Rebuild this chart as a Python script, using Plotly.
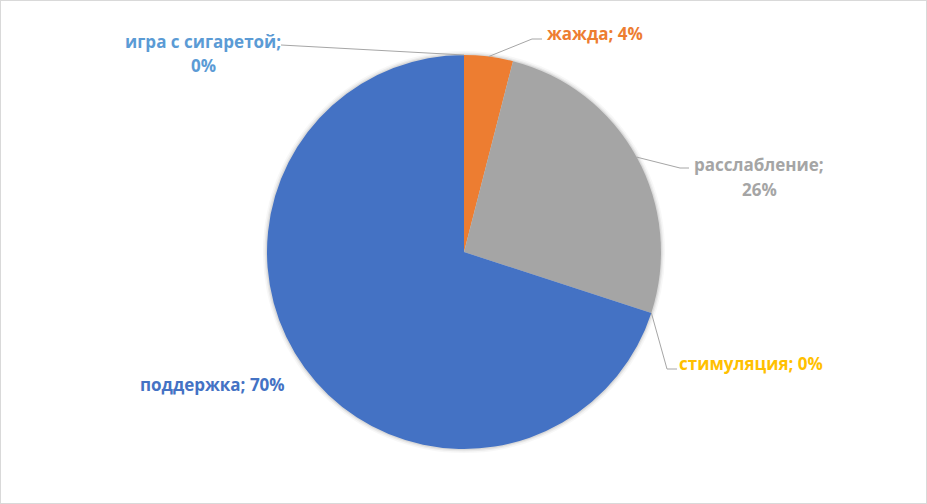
import math
import plotly.graph_objects as go

# Data (clockwise from 12 o'clock)
labels = ["жажда", "расслабление", "стимуляция", "поддержка", "игра с сигаретой"]
values = [4, 26, 0, 70, 0]
colors = ["#ED7D31", "#A5A5A5", "#FFC000", "#4472C4", "#5B9BD5"]

W, H = 927, 504
CX, CY, R = 464, 252, 197

def px(x):
    return x / W

def py(y):
    return 1 - y / H

fig = go.Figure()

# soft shadow halo behind the pie
for d, a in [(4, 0.03), (2.5, 0.05), (1.2, 0.07)]:
    fig.add_trace(go.Pie(
        values=[1], labels=["s"], marker=dict(colors=[f"rgba(0,0,0,{a})"], line=dict(width=0)),
        domain=dict(x=[px(CX - R - d), px(CX + R + d)], y=[py(CY + R + d), py(CY - R - d)]),
        textinfo="none", hoverinfo="skip", showlegend=False, sort=False))

fig.add_trace(go.Pie(
    labels=labels, values=values, sort=False, direction="clockwise", rotation=0,
    marker=dict(colors=colors, line=dict(width=0)),
    domain=dict(x=[px(CX - R), px(CX + R)], y=[py(CY + R), py(CY - R)]),
    textinfo="none", showlegend=False, hoverinfo="label+percent"))

total = sum(values)
cum = 0
mid_angles = []
for v in values:
    mid_angles.append((cum + v / 2) / total * 2 * math.pi)
    cum += v

# label layout: text centre(s) in pixels, leader elbow and end points
label_pos = {
    "жажда": dict(x=595, y=[34], elbow=(532, 39), end=(542, 39)),
    "расслабление": dict(x=759, y=[165, 189], elbow=(680, 168), end=(689, 168)),
    "стимуляция": dict(x=751, y=[363], elbow=(667, 369), end=(677, 369)),
    "поддержка": dict(x=212, y=[384], elbow=None, end=None),
    "игра с сигаретой": dict(x=203, y=[41, 66], elbow=None, end=(281, 45)),
}

for lab, v, col, ang in zip(labels, values, colors, mid_angles):
    p = label_pos[lab]
    pct = f"{round(v / total * 100)}%"
    lines = [f"{lab};", pct] if len(p["y"]) == 2 else [f"{lab}; {pct}"]
    for t, yy in zip(lines, p["y"]):
        fig.add_annotation(x=px(p["x"]), y=py(yy), xref="paper", yref="paper",
                           text=f"<b>{t}</b>", showarrow=False, xanchor="center", yanchor="middle",
                           align="center", font=dict(family="Open Sans", size=17, color=col))
    if p["end"] is not None:
        ex = CX + R * math.sin(ang)
        ey = CY - R * math.cos(ang)
        pts = [(ex, ey)]
        if p["elbow"]:
            pts.append(p["elbow"])
        pts.append(p["end"])
        path = "M " + " L ".join(f"{px(a)},{py(b)}" for a, b in pts)
        fig.add_shape(type="path", path=path, xref="paper", yref="paper",
                      line=dict(color="#A6A6A6", width=1))

# outer frame
fig.add_shape(type="rect", x0=0, y0=0, x1=1, y1=1, xref="paper", yref="paper",
              line=dict(color="#D9D9D9", width=2))

fig.update_layout(width=W, height=H, margin=dict(l=0, r=0, t=0, b=0),
                  paper_bgcolor="white", plot_bgcolor="white")
fig.write_html("out.html", config={"displayModeBar": False},
               post_script="document.body.style.margin='0';document.body.style.overflow='hidden';")
